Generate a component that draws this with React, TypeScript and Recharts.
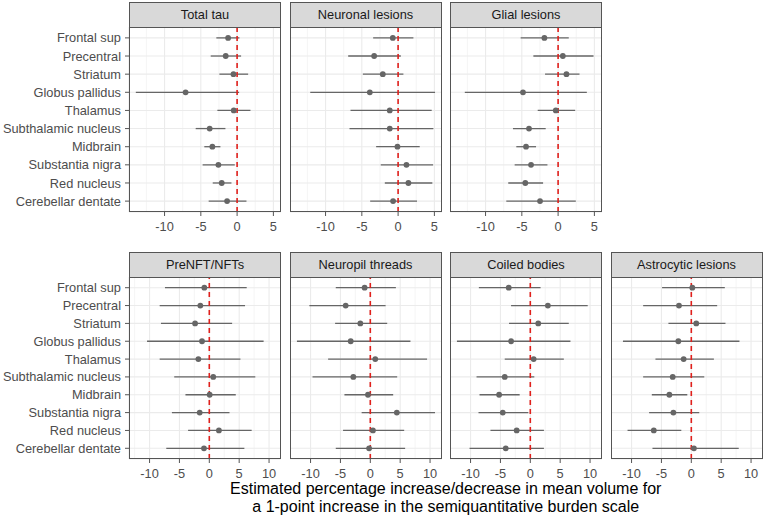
import {
  ScatterChart,
  Scatter,
  ErrorBar,
  XAxis,
  YAxis,
  CartesianGrid,
  ReferenceLine,
} from "recharts";

const regions = [
  "Frontal sup",
  "Precentral",
  "Striatum",
  "Globus pallidus",
  "Thalamus",
  "Subthalamic nucleus",
  "Midbrain",
  "Substantia nigra",
  "Red nucleus",
  "Cerebellar dentate",
];

// top row
const totalTauEst = [-1.24, -1.57, -0.5, -7.1, -0.46, -3.78, -3.41, -2.58, -2.12, -1.38];
const totalTauLo = [-2.86, -3.64, -2.44, -13.96, -2.72, -5.71, -4.52, -4.75, -3.36, -3.92];
const totalTauHi = [0.32, 0.55, 1.52, 0.28, 1.84, -1.61, -2.3, -0.32, -0.78, 1.29];

const neuronalEst = [-0.73, -3.3, -2.11, -3.9, -1.15, -1.15, -0.09, 1.15, 1.42, -0.69];
const neuronalLo = [-3.44, -6.88, -4.86, -12.11, -6.56, -6.7, -3.03, -2.39, -1.83, -3.85];
const neuronalHi = [2.11, 0.37, 0.73, 5.09, 4.63, 4.86, 2.98, 4.82, 4.72, 2.61];

const glialEst = [-1.89, 0.65, 1.15, -4.84, -0.32, -4.01, -4.42, -3.73, -4.52, -2.49];
const glialLo = [-5.16, -3.41, -1.8, -12.86, -2.81, -6.22, -5.76, -5.99, -6.87, -7.14];
const glialHi = [1.47, 4.88, 2.95, 3.96, 2.35, -1.71, -3.04, -1.47, -2.07, 2.44];

// bottom row
const nftEst = [-0.83, -1.5, -2.38, -1.22, -1.83, 0.66, 0.06, -1.61, 1.61, -0.89];
const nftLo = [-7.42, -8.31, -8.09, -10.42, -8.31, -5.87, -3.99, -6.26, -3.55, -7.2];
const nftHi = [6.26, 5.98, 3.82, 9.09, 5.21, 7.7, 4.43, 3.38, 7.09, 5.87];

const neuropilEst = [-0.95, -4.12, -1.67, -3.28, 0.83, -2.84, -0.39, 4.44, 0.44, -0.2];
const neuropilLo = [-5.78, -10.2, -5.89, -12.28, -7.06, -9.67, -4.33, -1.45, -4.56, -5.78];
const neuropilHi = [4.28, 2.56, 2.83, 6.72, 9.5, 4.5, 3.83, 10.83, 5.67, 5.83];

const coiledEst = [-3.61, 2.94, 1.33, -3.22, 0.56, -4.28, -5.22, -4.61, -2.28, -4.11];
const coiledLo = [-8.61, -3.22, -3.56, -12.28, -4.28, -9.0, -8.5, -8.67, -6.67, -10.17];
const coiledHi = [1.72, 9.61, 6.44, 6.72, 5.61, 0.67, -1.78, -0.33, 2.28, 2.28];

const astroEst = [0.17, -2.06, 0.83, -2.17, -1.28, -3.11, -3.67, -3.0, -6.28, 0.44];
const astroLo = [-4.89, -8.06, -3.83, -11.44, -6.0, -8.06, -6.61, -7.06, -10.67, -6.5];
const astroHi = [5.61, 4.33, 5.72, 8.06, 3.78, 2.17, -0.67, 1.33, -1.67, 7.94];

const topTicks = [-10, -5, 0, 5];
const topMinor = [-12.5, -7.5, -2.5, 2.5];
const bottomTicks = [-10, -5, 0, 5, 10];
const bottomMinor = [-12.5, -7.5, -2.5, 2.5, 7.5];

const FONT = "'Liberation Sans', Arial, sans-serif";
const GREY = "#666666";
const PANEL_W = 152;
const COLS = [129, 289.5, 450, 610.5];

const buildRows = (est: number[], lo: number[], hi: number[]) =>
  regions.map((name, i) => ({
    row: i + 1,
    name,
    est: est[i],
    err: [est[i] - lo[i], hi[i] - est[i]],
  }));

// plain text tick so long region names never wrap
const RegionTick = (props: any) => (
  <text
    x={props.x}
    y={props.y}
    dy="0.355em"
    textAnchor="end"
    fontSize={12.8}
    fill="#4d4d4d"
  >
    {regions[props.payload.value - 1]}
  </text>
);

type PanelProps = {
  title: string;
  est: number[];
  lo: number[];
  hi: number[];
  col: number;
  top: number;
  plotH: number;
  domain: [number, number];
  ticks: number[];
  minor: number[];
};

const Panel = ({ title, est, lo, hi, col, top, plotH, domain, ticks, minor }: PanelProps) => {
  const data = buildRows(est, lo, hi);
  const showY = col === 0;
  const yW = 129;
  const left = showY ? COLS[0] - yW : COLS[col];
  const width = showY ? PANEL_W + yW : PANEL_W;
  return (
    <>
      <div
        style={{
          position: "absolute",
          left: COLS[col],
          top: top - 25,
          width: PANEL_W,
          height: 26,
          boxSizing: "border-box",
          background: "#d9d9d9",
          border: "1px solid #555",
          color: "#1a1a1a",
          fontSize: 12.8,
          lineHeight: "24px",
          textAlign: "center",
        }}
      >
        {title}
      </div>
      <div style={{ position: "absolute", left, top }}>
        <ScatterChart width={width} height={plotH + 30} margin={{ top: 0, right: 0, bottom: 0, left: 0 }}>
          <CartesianGrid
            stroke="#eeeeee"
            strokeWidth={0.6}
            horizontal={false}
            verticalValues={minor}
          />
          <CartesianGrid stroke="#ebebeb" strokeWidth={1.1} />
          <XAxis
            type="number"
            dataKey="est"
            domain={domain}
            ticks={ticks}
            allowDataOverflow
            height={30}
            axisLine={false}
            tickSize={4}
            tickMargin={6}
            tickLine={{ stroke: "#555" }}
            tick={{ fontSize: 12.8, fill: "#4d4d4d" }}
          />
          <YAxis
            type="number"
            dataKey="row"
            domain={[0.4, 10.6]}
            ticks={[1, 2, 3, 4, 5, 6, 7, 8, 9, 10]}
            interval={0}
            reversed
            allowDataOverflow
            hide={!showY}
            width={yW}
            axisLine={false}
            tickSize={4}
            tickMargin={4}
            tickLine={{ stroke: "#555" }}
            tick={RegionTick}
          />
          <Scatter data={data} fill={GREY} isAnimationActive={false} shape={(p: any) => (
            <circle cx={p.cx} cy={p.cy} r={2.9} fill={GREY} />
          )}>
            <ErrorBar dataKey="err" direction="x" width={0} stroke={GREY} strokeWidth={1.3} isAnimationActive={false} />
          </Scatter>
          <ReferenceLine x={0} stroke="#e0201c" strokeWidth={1.6} strokeDasharray="5 4" />
        </ScatterChart>
      </div>
      <div
        style={{
          position: "absolute",
          left: COLS[col],
          top,
          width: PANEL_W,
          height: plotH,
          boxSizing: "border-box",
          border: "1px solid #555",
          pointerEvents: "none",
        }}
      />
    </>
  );
};

const App = () => {
  const topDomain: [number, number] = [-14.9, 6.05];
  const bottomDomain: [number, number] = [-13.44, 12.0];
  const topY = 27;
  const topH = 185;
  const botY = 277;
  const botH = 182;
  return (
    <div
      style={{
        position: "absolute",
        left: 0,
        top: 0,
        width: 765,
        height: 519,
        background: "#fff",
        fontFamily: FONT,
        overflow: "hidden",
      }}
    >
      <Panel title="Total tau" est={totalTauEst} lo={totalTauLo} hi={totalTauHi} col={0} top={topY} plotH={topH} domain={topDomain} ticks={topTicks} minor={topMinor} />
      <Panel title="Neuronal lesions" est={neuronalEst} lo={neuronalLo} hi={neuronalHi} col={1} top={topY} plotH={topH} domain={topDomain} ticks={topTicks} minor={topMinor} />
      <Panel title="Glial lesions" est={glialEst} lo={glialLo} hi={glialHi} col={2} top={topY} plotH={topH} domain={topDomain} ticks={topTicks} minor={topMinor} />

      <Panel title="PreNFT/NFTs" est={nftEst} lo={nftLo} hi={nftHi} col={0} top={botY} plotH={botH} domain={bottomDomain} ticks={bottomTicks} minor={bottomMinor} />
      <Panel title="Neuropil threads" est={neuropilEst} lo={neuropilLo} hi={neuropilHi} col={1} top={botY} plotH={botH} domain={bottomDomain} ticks={bottomTicks} minor={bottomMinor} />
      <Panel title="Coiled bodies" est={coiledEst} lo={coiledLo} hi={coiledHi} col={2} top={botY} plotH={botH} domain={bottomDomain} ticks={bottomTicks} minor={bottomMinor} />
      <Panel title="Astrocytic lesions" est={astroEst} lo={astroLo} hi={astroHi} col={3} top={botY} plotH={botH} domain={bottomDomain} ticks={bottomTicks} minor={bottomMinor} />

      <div
        style={{
          position: "absolute",
          left: COLS[0],
          top: 480,
          width: COLS[3] + PANEL_W - COLS[0],
          textAlign: "center",
          fontSize: 16,
          lineHeight: "17.5px",
          color: "#000",
        }}
      >
        Estimated percentage increase/decrease in mean volume for
        <br />
        a 1-point increase in the semiquantitative burden scale
      </div>
    </div>
  );
};

export default App;
